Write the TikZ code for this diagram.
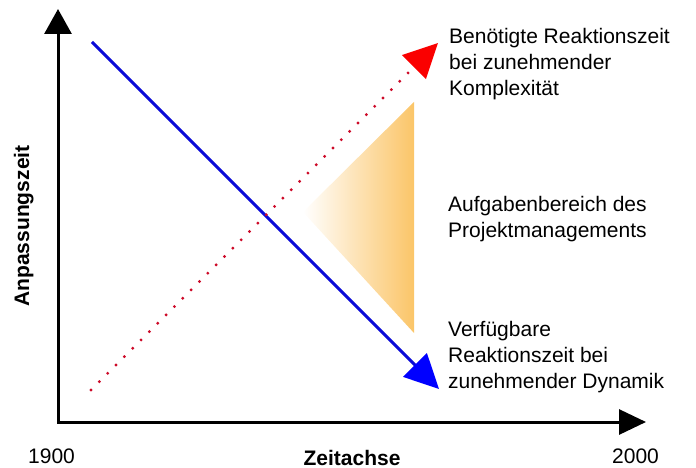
\documentclass[tikz,border=0pt]{standalone}
\usepackage{fontspec}
\setmainfont{Liberation Sans}
\usetikzlibrary{arrows.meta,positioning}

\definecolor{lineblue}{RGB}{10,10,215}
\definecolor{tipblue}{RGB}{0,0,255}
\definecolor{dotred}{RGB}{205,10,40}
\definecolor{tipred}{RGB}{250,0,0}
\definecolor{pmorange}{RGB}{251,197,104}

\tikzset{
    axis/.style={line width=3pt, {Triangle[length=25pt,width=27pt]}-{Triangle[length=27pt,width=25pt]}},
    note/.style={font=\fontsize{21}{26}\selectfont, align=left, anchor=base west, inner sep=0pt},
    axislabel/.style={font=\bfseries\fontsize{21}{26}\selectfont, inner sep=0pt}
}

\begin{document}
\begin{tikzpicture}[x=1pt,y=-1pt]
    \useasboundingbox (0,0) rectangle (696,468);

    % Achsen
    \coordinate (origin) at (58,422);
    \coordinate (ytip) at (58,9);
    \coordinate (xtip) at (646,422);
    \draw [axis] (ytip) -- (origin) -- (xtip);

    % Aufgabenbereich
    \coordinate (tri tip) at (303,212);
    \coordinate (tri top) at (414,102);
    \coordinate (tri bot) at (414,333);
    \shade [left color=white, right color=pmorange]
    (tri tip) -- (tri top) -- (tri bot) -- cycle;

    % verfuegbare Reaktionszeit
    \coordinate (dyn start) at (92,42);
    \coordinate (dyn end) at (439,389);
    \draw [lineblue, line width=3pt,
    -{Triangle[length=34pt,width=33pt,color=tipblue]}]
    (dyn start) -- (dyn end);

    % benoetigte Reaktionszeit
    \coordinate (kom start) at (91,390);
    \coordinate (kom end) at (438,43);
    \draw [dotred, line width=3.2pt, line cap=round, dash pattern=on 0pt off 11.8pt,
    -{Triangle[length=34pt,width=33pt,color=tipred]}]
    (kom start) -- (kom end);

    % Texte (Anker an der letzten Zeile)
    \node [note] (kom text) at (449,96)
    {Benötigte Reaktionszeit\\bei zunehmender\\Komplexität};
    \node [note] (pm text) at (448,237)
    {Aufgabenbereich des\\Projektmanagements};
    \node [note] (dyn text) at (448,388)
    {Verfügbare\\Reaktionszeit bei\\zunehmender Dynamik};

    \node [note] (year start) at (28,463) {1900};
    \node [note] (year end) at (612,463) {2000};
    \node [axislabel, anchor=base] (x label) at (352,465) {Zeitachse};
    \node [axislabel, anchor=base, rotate=90] (y label) at (29,226) {Anpassungszeit};
\end{tikzpicture}
\end{document}
